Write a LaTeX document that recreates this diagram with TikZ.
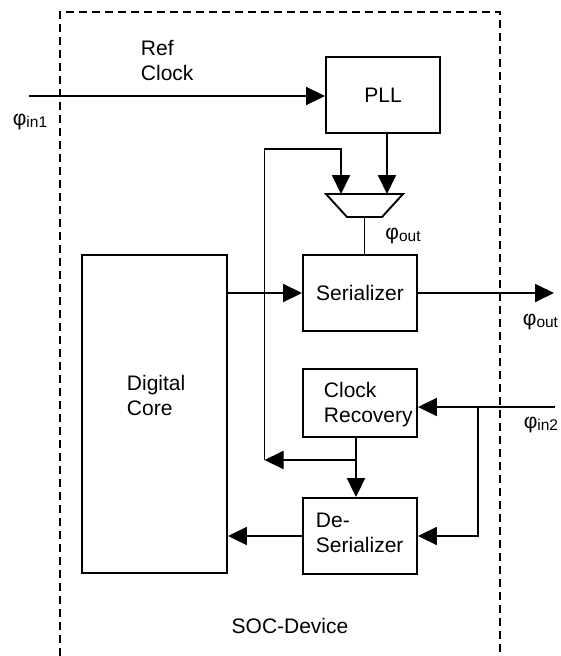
\documentclass[tikz,border=0pt]{standalone}
\usepackage{fontspec}
\setmainfont{Liberation Sans}
\usetikzlibrary{arrows.meta}
\newcommand{\phisub}[1]{φ\raisebox{-2pt}{\fontsize{15.5}{16}\selectfont #1}}
\begin{document}
\begin{tikzpicture}[x=1pt,y=-1pt,
  line width=1.9pt,
  font=\fontsize{21}{25}\selectfont,
  blk/.style={draw, inner sep=0pt, line width=1.9pt},
  arr/.style={-{Triangle[length=19pt,width=18pt]}},
  txt/.style={inner sep=0pt, align=left, anchor=west},
  lbl/.style={inner sep=0pt},
  bnd/.style={dash pattern=on 8pt off 5pt, line width=1.7pt}]
\useasboundingbox (0,0) rectangle (561,656);
% boundary
\draw[bnd] (60,656) -- (60,12) -- (500,12) -- (500,656);
% blocks
\node[blk, minimum width=114pt, minimum height=76pt] (pll) at (383,95) {PLL};
\node[blk, minimum width=114pt, minimum height=76pt] (ser) at (360,293) {Serializer};
\node[blk, minimum width=114pt, minimum height=68pt] (cr) at (360,403) {};
\node[blk, minimum width=114pt, minimum height=76pt] (ds) at (360,536) {};
\node[blk, minimum width=145pt, minimum height=318pt] (dc) at (154.5,414) {};
% texts
\node[txt] (reftxt) at (140,61) {Ref\\Clock};
\node[txt] (dctxt) at (126,395) {Digital\\Core};
\node[txt] (crtxt) at (323,405) {Clock\\Recovery};
\node[txt] (dstxt) at (315,533) {De-\\Serializer};
\node[lbl] (soc) at (290,626) {SOC-Device};
\node[lbl] (phin1) at (30,122) {\phisub{in1}};
\node[lbl] (phout1) at (403,236) {\phisub{out}};
\node[lbl, anchor=east] (phout2) at (559,322) {\phisub{out}};
\node[lbl, anchor=east] (phin2) at (559,425) {\phisub{in2}};
% mux
\coordinate (m1) at (326,194);
\coordinate (m2) at (403,194);
\coordinate (m3) at (382,217);
\coordinate (m4) at (347,217);
\draw[line join=miter] (m1) -- (m2) -- (m3) -- (m4) -- cycle;
\coordinate (mA) at (341,194);
\coordinate (mB) at (387,194);
\coordinate (mO) at (364.5,217);
% coordinates
\coordinate (rin) at (29,96);
\coordinate (outR) at (554,293);
\coordinate (in2) at (555,407);
\coordinate (br) at (478,407);
\coordinate (crb) at (356,460);
\coordinate (fb) at (264.5,460);
\coordinate (fbtop) at (264.5,149);
% connectors
\draw[arr] (rin) -- (rin -| pll.west);
\draw[arr] (mB |- pll.south) -- (mB);
\draw (mO) -- (mO |- ser.north);
\draw[arr] (ser.west -| dc.east) -- (ser.west);
\draw[arr] (ser.east) -- (outR);
\draw[arr] (in2) -- (in2 -| cr.east);
\draw[arr] (br) |- (ds.east);
\draw[arr] ([xshift=-4pt]cr.south) -- ([xshift=-4pt]ds.north);
\draw[arr] (crb) -- (fb);
\draw[arr] (fb) -- (fbtop) -| (mA);
\draw[arr] (ds.west) -- (ds.west -| dc.east);
\end{tikzpicture}
\end{document}
